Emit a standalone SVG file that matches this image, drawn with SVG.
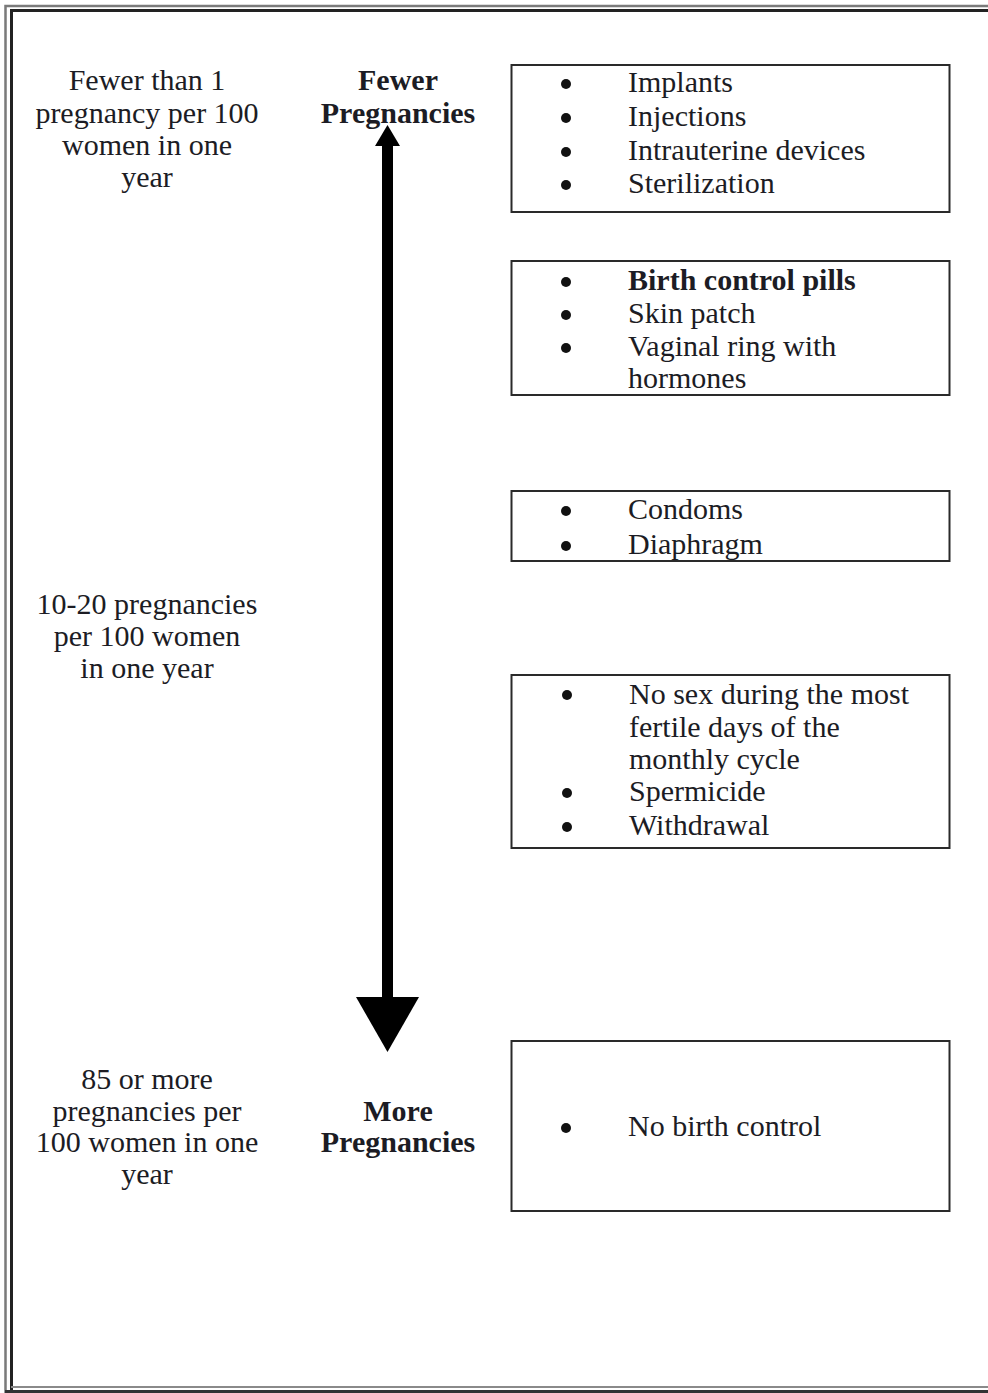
<svg xmlns="http://www.w3.org/2000/svg" width="988" height="1393" viewBox="0 0 988 1393">
<style>
text{font-family:"Liberation Serif","Times New Roman",serif;font-size:30px;fill:#1c1c24}
.c{text-anchor:middle}
.b{font-weight:bold}
.box{fill:none;stroke:#2a2a2a;stroke-width:2}
.dot{fill:#111}
</style>
<rect width="988" height="1393" fill="#fff"/>
<g id="frame" fill="none">
<path d="M5.5,1393 V6 H988" stroke="#7a7a7a" stroke-width="2.5"/>
<path d="M11.5,1393 V10.5 H988" stroke="#222" stroke-width="3"/>
<path d="M11,1387 H988" stroke="#8a8a8a" stroke-width="2"/>
<path d="M5,1391.5 H988" stroke="#333" stroke-width="3"/>
</g>
<g id="connectors">
<rect x="382" y="143" width="11" height="856" fill="#000"/>
<polygon points="387.5,125 375,146 400,146" fill="#000"/>
<polygon points="387.5,1052 356,997 419,997" fill="#000"/>
</g>
<g id="label-top-left">
<text class="c" x="147" y="90">Fewer than 1</text>
<text class="c" x="147" y="123">pregnancy per 100</text>
<text class="c" x="147" y="155">women in one</text>
<text class="c" x="147" y="187">year</text>
</g>
<g id="label-fewer">
<text class="c b" x="398" y="90">Fewer</text>
<text class="c b" x="398" y="123">Pregnancies</text>
</g>
<g id="label-mid-left">
<text class="c" x="147" y="614">10-20 pregnancies</text>
<text class="c" x="147" y="646">per 100 women</text>
<text class="c" x="147" y="678">in one year</text>
</g>
<g id="label-bottom-left">
<text class="c" x="147" y="1089">85 or more</text>
<text class="c" x="147" y="1121">pregnancies per</text>
<text class="c" x="147" y="1152">100 women in one</text>
<text class="c" x="147" y="1184">year</text>
</g>
<g id="label-more">
<text class="c b" x="398" y="1121">More</text>
<text class="c b" x="398" y="1152">Pregnancies</text>
</g>
<g id="box1">
<rect class="box" x="511.5" y="65" width="438" height="147"/>
<circle class="dot" cx="566" cy="84" r="5"/>
<circle class="dot" cx="566" cy="118" r="5"/>
<circle class="dot" cx="566" cy="152" r="5"/>
<circle class="dot" cx="566" cy="185" r="5"/>
<text x="628" y="92">Implants</text>
<text x="628" y="126">Injections</text>
<text x="628" y="160">Intrauterine devices</text>
<text x="628" y="193">Sterilization</text>
</g>
<g id="box2">
<rect class="box" x="511.5" y="261" width="438" height="134"/>
<circle class="dot" cx="566" cy="282" r="5"/>
<circle class="dot" cx="566" cy="315" r="5"/>
<circle class="dot" cx="566" cy="348" r="5"/>
<text class="b" x="628" y="290">Birth control pills</text>
<text x="628" y="323">Skin patch</text>
<text x="628" y="356">Vaginal ring with</text>
<text x="628" y="388">hormones</text>
</g>
<g id="box3">
<rect class="box" x="511.5" y="491" width="438" height="70"/>
<circle class="dot" cx="566" cy="511" r="5"/>
<circle class="dot" cx="566" cy="546" r="5"/>
<text x="628" y="519">Condoms</text>
<text x="628" y="554">Diaphragm</text>
</g>
<g id="box4">
<rect class="box" x="511.5" y="675" width="438" height="173"/>
<circle class="dot" cx="567" cy="695" r="5"/>
<circle class="dot" cx="567" cy="793" r="5"/>
<circle class="dot" cx="567" cy="827" r="5"/>
<text x="629" y="704">No sex during the most</text>
<text x="629" y="737">fertile days of the</text>
<text x="629" y="769">monthly cycle</text>
<text x="629" y="801">Spermicide</text>
<text x="629" y="835">Withdrawal</text>
</g>
<g id="box5">
<rect class="box" x="511.5" y="1041" width="438" height="170"/>
<circle class="dot" cx="566" cy="1128" r="5"/>
<text x="628" y="1136">No birth control</text>
</g>
</svg>
